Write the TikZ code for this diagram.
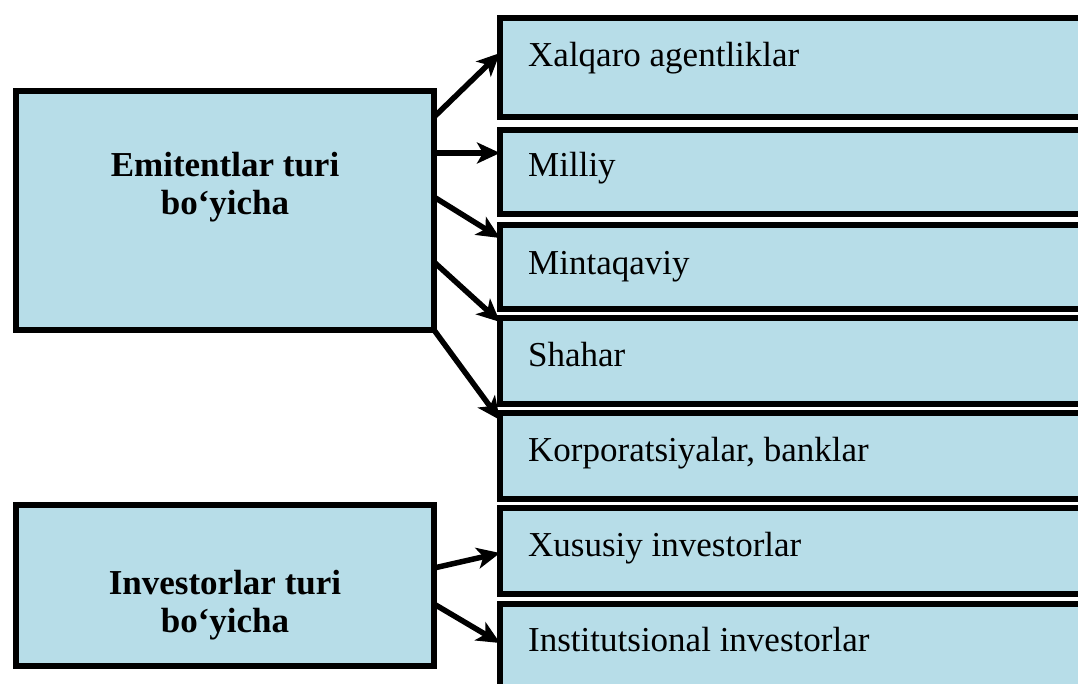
\documentclass[tikz,border=0pt]{standalone}
\usepackage{fontspec}
\setmainfont{Liberation Serif}
\usetikzlibrary{arrows.meta}
\definecolor{boxblue}{RGB}{183,221,232}
\begin{document}
\begin{tikzpicture}[x=1pt,y=-1pt,
  box/.style={draw=black,fill=boxblue,line width=6pt,rectangle,inner sep=0pt,outer sep=0pt},
  headtxt/.style={font=\fontsize{35}{38}\selectfont\bfseries,align=center,inner sep=0pt},
  itemtxt/.style={font=\fontsize{35}{38}\selectfont,anchor=base west,inner sep=0pt},
  arr/.style={line width=5.5pt,-{Stealth[length=23pt,width=21pt,inset=6pt]}}]
\useasboundingbox (0,0) rectangle (1078,684);
\clip (0,0) rectangle (1078,684);
% left boxes
\node[box,minimum width=418pt,minimum height=239pt] (L1) at (225,210.5) {};
\node[box,minimum width=418pt,minimum height=161pt] (L2) at (225,585.5) {};
\node[headtxt] (L1t) at (225,187) {Emitentlar turi\\bo‘yicha};
\node[headtxt] (L2t) at (225,605) {Investorlar turi\\bo‘yicha};
% right boxes
\node[box,minimum width=605pt,minimum height=99pt] (R1) at (802.5,67.5) {};
\node[box,minimum width=605pt,minimum height=84pt] (R2) at (802.5,172) {};
\node[box,minimum width=605pt,minimum height=84pt] (R3) at (802.5,267) {};
\node[box,minimum width=605pt,minimum height=86pt] (R4) at (802.5,361) {};
\node[box,minimum width=605pt,minimum height=86pt] (R5) at (802.5,456) {};
\node[box,minimum width=605pt,minimum height=86pt] (R6) at (802.5,551) {};
\node[box,minimum width=605pt,minimum height=104pt] (R7) at (802.5,656) {};
\node[itemtxt] (R1t) at (528,67) {Xalqaro agentliklar};
\node[itemtxt] (R2t) at (528,177) {Milliy};
\node[itemtxt] (R3t) at (528,275) {Mintaqaviy};
\node[itemtxt] (R4t) at (528,366) {Shahar};
\node[itemtxt] (R5t) at (528,461) {Korporatsiyalar, banklar};
\node[itemtxt] (R6t) at (528,556) {Xususiy investorlar};
\node[itemtxt] (R7t) at (528,651) {Institutsional investorlar};
% arrows
\draw[arr] (L1.east |- 0,117) -- (R1.west |- 0,53);
\draw[arr] (L1.east |- 0,153) -- (R2.west |- 0,153);
\draw[arr] (L1.east |- 0,197) -- (R3.west |- 0,238);
\draw[arr] (L1.east |- 0,262) -- (R4.west |- 0,322);
\draw[arr] (L1.south east) -- (R5.west |- 0,420);
\draw[arr] (L2.east |- 0,568) -- (R6.west |- 0,553);
\draw[arr] (L2.east |- 0,604) -- (R7.west |- 0,643);
\end{tikzpicture}
\end{document}
